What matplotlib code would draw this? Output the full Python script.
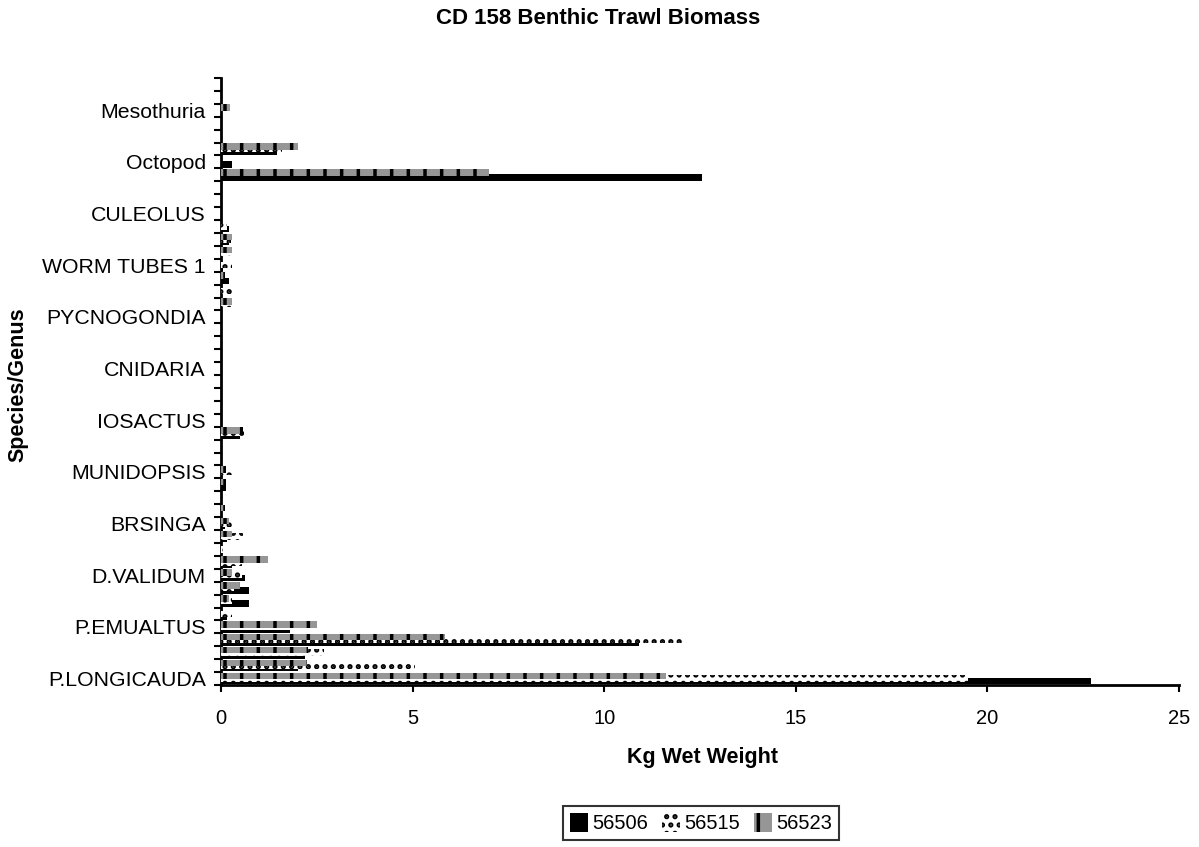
import numpy as np
import matplotlib
matplotlib.use("Agg")
import matplotlib.pyplot as plt

plt.rcParams['font.family'] = ['Liberation Sans', 'DejaVu Sans']
plt.rcParams['hatch.linewidth'] = 2.5

# 47 categories, only every 4th one carries a label in the original chart
categories = ["P.LONGICAUDA", "", "", "",
              "P.EMUALTUS", "", "", "",
              "D.VALIDUM", "", "", "",
              "BRSINGA", "", "", "",
              "MUNIDOPSIS", "", "", "",
              "IOSACTUS", "", "", "",
              "CNIDARIA", "", "", "",
              "PYCNOGONDIA", "", "", "",
              "WORM TUBES 1", "", "", "",
              "CULEOLUS", "", "", "",
              "Octopod", "", "", "",
              "Mesothuria", "", ""]

series_names = ["56506", "56515", "56523"]

# kg wet weight per category (bottom to top)
s56506 = [22.7, 2.0, 2.2, 10.9, 1.8, 0.15, 0.72, 0.72, 0.62, 0.3,
          0, 0.15, 0.1, 0, 0, 0.12, 0, 0, 0, 0.5,
          0, 0, 0, 0, 0, 0, 0, 0, 0, 0,
          0, 0.2, 0.05, 0, 0.2, 0.2, 0, 0, 0, 12.55,
          0.3, 1.45, 0, 0, 0, 0, 0]
s56515 = [19.5, 5.07, 2.7, 12.06, 1.9, 0.3, 0.3, 0.35, 0.55, 0.55,
          0.05, 0.57, 0.3, 0, 0, 0, 0.3, 0, 0, 0.6,
          0, 0, 0, 0, 0, 0, 0, 0, 0, 0.25,
          0.3, 0, 0.3, 0.3, 0.25, 0.15, 0, 0, 0, 0,
          0, 1.58, 0, 0, 0, 0, 0]
s56523 = [11.6, 2.24, 2.27, 5.85, 2.5, 0, 0.2, 0.5, 0.3, 1.23,
          0, 0.3, 0.22, 0.1, 0, 0.12, 0.12, 0, 0, 0.57,
          0, 0, 0, 0, 0, 0, 0, 0, 0, 0.3,
          0, 0.1, 0, 0.3, 0.3, 0, 0, 0, 0, 7.0,
          0, 2.02, 0, 0, 0.24, 0, 0]

xticks = [0, 5, 10, 15, 20, 25]

fig = plt.figure(figsize=(11.99, 8.47), dpi=100)
ax = fig.add_axes([221/1199, 1-685/847, 958/1199, 607/847])

y = np.arange(len(categories))
h = 0.5
ax.barh(y - 0.2, s56506, height=h, color="black", linewidth=0, zorder=2, label=series_names[0])
ax.barh(y, s56515, height=h, color="white", edgecolor="black", hatch="..", linewidth=0, zorder=3, label=series_names[1])
ax.barh(y + 0.2, s56523, height=h, color="#969696", edgecolor="black", hatch="|", linewidth=0, zorder=4, label=series_names[2])

ax.set_xlim(0, 25)
ax.set_ylim(-0.5, len(categories) - 0.5)
ax.set_xticks(xticks)
ax.set_xticklabels([str(t) for t in xticks], fontsize=14.5)
ax.tick_params(axis="x", direction="out", length=5, width=1.5, pad=12)

ax.set_yticks(y)
ax.set_yticklabels(categories, fontsize=15.3)
ax.set_yticks(np.arange(len(categories) + 1) - 0.5, minor=True)
ax.tick_params(axis="y", which="major", length=0, pad=11)
ax.tick_params(axis="y", which="minor", direction="out", length=5, width=1.5)

for side in ["top", "right"]:
    ax.spines[side].set_visible(False)
for side in ["left", "bottom"]:
    ax.spines[side].set_linewidth(2)

fig.text(598/1199, 1-18/847, "CD 158 Benthic Trawl Biomass", ha="center", va="center",
         fontsize=16, fontweight="bold")
fig.text(703/1199, 1-757/847, "Kg Wet Weight", ha="center", va="center",
         fontsize=15.5, fontweight="bold")
fig.text(18/1199, 1-385/847, "Species/Genus", ha="center", va="center", rotation=90,
         fontsize=15.5, fontweight="bold")

leg = fig.legend(loc="center", bbox_to_anchor=(701/1199, 1-823/847), ncol=3,
                 fontsize=14.5, frameon=True, fancybox=False, handlelength=0.9,
                 handleheight=1.1, handletextpad=0.2, columnspacing=0.7,
                 borderpad=0.35)
leg.get_frame().set_edgecolor("black")
leg.get_frame().set_linewidth(1.5)

fig.savefig("out.png", dpi=100)
